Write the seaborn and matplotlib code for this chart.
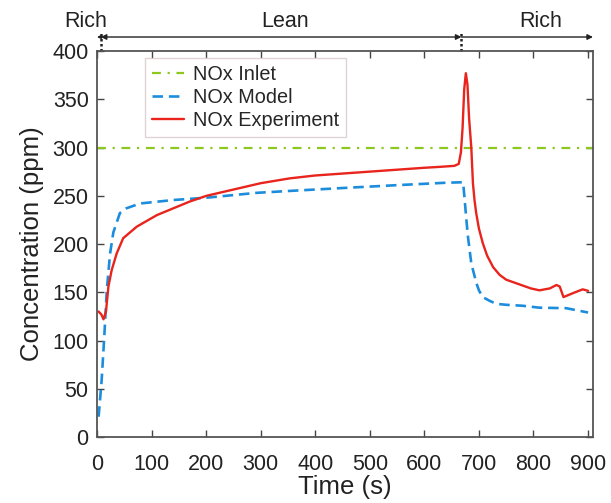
import numpy as np
import pandas as pd
import matplotlib
matplotlib.use("Agg")
import matplotlib.pyplot as plt
import seaborn as sns

sns.set_style("white")
plt.rcParams["font.family"] = ["Liberation Sans", "DejaVu Sans"]

# ── date ──
t_exp = [3, 8, 12, 16.5, 21, 27, 36, 48, 73, 110, 170, 201, 262, 300, 353,
         400, 450, 500, 550, 600, 630, 655, 663, 667, 670, 673, 676, 679, 682,
         686, 689, 692, 695, 700, 707, 715, 726, 738, 750, 765, 780, 795, 811,
         830, 842, 848, 855, 872, 890, 900]
c_exp = [130, 127, 122, 130, 156, 173, 190, 206, 218, 230, 244, 250, 258, 263,
         268, 271, 273, 275, 277, 279, 280, 281, 283, 295, 320, 360, 377, 365,
         330, 300, 263, 245, 232, 216, 201, 188, 176, 168, 163, 160, 157, 154,
         152, 154, 157.5, 156, 145, 149, 153, 151.5]

t_mod = [3, 8.6, 13.4, 18, 24, 30, 42, 54, 79, 140, 201, 292, 353, 450, 550,
         640, 671, 674, 677, 680, 686, 695, 700, 707, 720, 732, 750, 780, 811,
         860, 900]
c_mod = [21, 59, 104, 152, 190, 212, 232, 237, 242, 245.6, 248, 253, 255, 258,
         261, 263.5, 264, 245, 225, 207, 180, 160, 152, 145, 141, 138, 137, 136,
         134, 133.5, 129]

inlet_level = 300

df_exp = pd.DataFrame({"t": t_exp, "c": c_exp})
df_mod = pd.DataFrame({"t": t_mod, "c": c_mod})

RED = "#e8241c"
BLUE = "#1c8ddc"
GREEN = "#8dc81e"
DARK = "#222222"

fig = plt.figure(figsize=(6.11, 5.03), dpi=100)
ax = fig.add_axes([0.1587, 0.1312, 0.8118, 0.7674])

ax.axhline(inlet_level, color=GREEN, linestyle=(0, (4, 3, 1, 3)), linewidth=1.6,
           label="NOx Inlet")
sns.lineplot(data=df_mod, x="t", y="c", ax=ax, color=BLUE, linewidth=1.9,
             linestyle=(0, (4, 2.2)), label="NOx Model")
sns.lineplot(data=df_exp, x="t", y="c", ax=ax, color=RED, linewidth=1.7,
             label="NOx Experiment")

ax.set_xlim(0, 909)
ax.set_ylim(0, 400)
ax.set_xticks(np.arange(0, 901, 100))
ax.set_yticks(np.arange(0, 401, 50))
ax.tick_params(direction="in", bottom=True, left=True, top=True, right=True,
               labelsize=15.5, length=5, width=1.0, color="#444444",
               labelcolor=DARK, pad=6)
ax.tick_params(axis="x", pad=12)
for s in ax.spines.values():
    s.set_color("#555555")
    s.set_linewidth(1.3)
ax.set_xlabel("Time (s)", fontsize=18.5, labelpad=0, color=DARK)
ax.set_ylabel("Concentration (ppm)", fontsize=18.5, labelpad=6, color=DARK)

leg = ax.legend(loc="upper left", bbox_to_anchor=(0.097, 0.982), fontsize=14.3,
                frameon=True, fancybox=False, handlelength=1.6,
                handletextpad=0.45, borderpad=0.35, labelspacing=0.2,
                borderaxespad=0)
leg.get_frame().set_edgecolor("#d8c8c8")
leg.get_frame().set_linewidth(1.0)

# ── regiuni Rich / Lean deasupra axei ──
switch1, switch2 = 7, 668
y_arr = 414.5
ax.annotate("", xy=(switch1, y_arr), xytext=(switch2, y_arr),
            xycoords="data", annotation_clip=False,
            arrowprops=dict(arrowstyle="<|-|>", color=DARK, lw=1.0,
                            mutation_scale=8, shrinkA=0, shrinkB=0))
ax.annotate("", xy=(909, y_arr), xytext=(switch2, y_arr), xycoords="data",
            annotation_clip=False,
            arrowprops=dict(arrowstyle="-|>", color=DARK, lw=1.0,
                            mutation_scale=8, shrinkA=0, shrinkB=0))
ax.annotate("", xy=(0, y_arr), xytext=(switch1, y_arr), xycoords="data",
            annotation_clip=False,
            arrowprops=dict(arrowstyle="-|>", color=DARK, lw=1.0,
                            mutation_scale=5, shrinkA=0, shrinkB=0))
for xs in (switch1, switch2):
    ax.plot([xs, xs], [400, 419], color=DARK, linestyle=(0, (1, 1)),
            linewidth=1.8, clip_on=False)
ax.text(-20, 431, "Rich", fontsize=15.5, ha="center", va="center", color=DARK)
ax.text(344, 431, "Lean", fontsize=15.5, ha="center", va="center", color=DARK)
ax.text(813, 431, "Rich", fontsize=15.5, ha="center", va="center", color=DARK)

fig.savefig("out.png", dpi=100)
